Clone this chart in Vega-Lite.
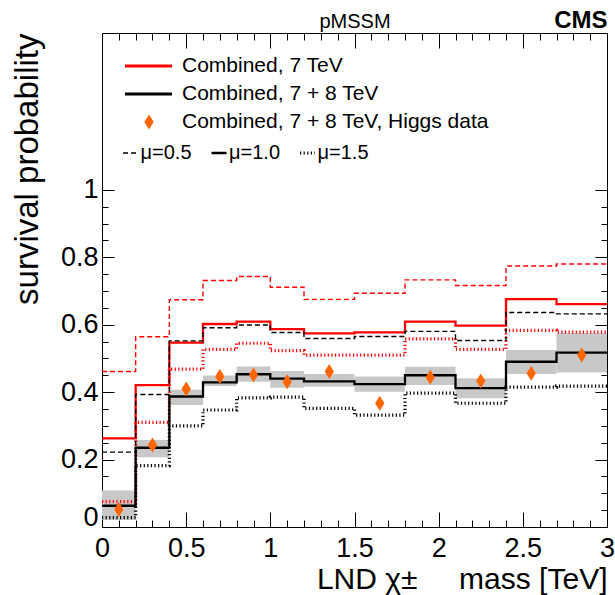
{
  "$schema": "https://vega.github.io/schema/vega-lite/v6.json",
  "width": 505,
  "height": 494,
  "autosize": {"type": "none"},
  "padding": {"left": 102, "top": 33, "right": 8, "bottom": 68},
  "config": {
    "font": "Liberation Sans",
    "view": {"stroke": "#000", "strokeWidth": 1},
    "axis": {"domain": false, "grid": false, "tickColor": "#000", "labelColor": "#000", "titleColor": "#000", "tickWidth": 1, "labelFlush": false, "labelOverlap": false, "labelBound": false},
    "legend": {"padding": 0, "labelColor": "#000", "labelFont": "Liberation Sans", "labelLimit": 500}
  },
  "datasets": {
    "band": [
      {"lo": 0, "hi": 0.2, "blo": 0.021, "bhi": 0.108},
      {"lo": 0.2, "hi": 0.4, "blo": 0.207, "bhi": 0.258},
      {"lo": 0.4, "hi": 0.6, "blo": 0.362, "bhi": 0.407},
      {"lo": 0.6, "hi": 0.8, "blo": 0.418, "bhi": 0.449},
      {"lo": 0.8, "hi": 1, "blo": 0.431, "bhi": 0.476},
      {"lo": 1, "hi": 1.2, "blo": 0.413, "bhi": 0.463},
      {"lo": 1.2, "hi": 1.5, "blo": 0.416, "bhi": 0.454},
      {"lo": 1.5, "hi": 1.8, "blo": 0.401, "bhi": 0.446},
      {"lo": 1.8, "hi": 2.1, "blo": 0.421, "bhi": 0.475},
      {"lo": 2.1, "hi": 2.4, "blo": 0.382, "bhi": 0.441},
      {"lo": 2.4, "hi": 2.7, "blo": 0.454, "bhi": 0.525},
      {"lo": 2.7, "hi": 3, "blo": 0.458, "bhi": 0.575}
    ],
    "higgs": [
      {"s": "Combined, 7 + 8 TeV, Higgs data", "x": 0.1, "v": 0.052},
      {"s": "Combined, 7 + 8 TeV, Higgs data", "x": 0.3, "v": 0.243},
      {"s": "Combined, 7 + 8 TeV, Higgs data", "x": 0.5, "v": 0.409},
      {"s": "Combined, 7 + 8 TeV, Higgs data", "x": 0.7, "v": 0.446},
      {"s": "Combined, 7 + 8 TeV, Higgs data", "x": 0.9, "v": 0.451},
      {"s": "Combined, 7 + 8 TeV, Higgs data", "x": 1.1, "v": 0.431},
      {"s": "Combined, 7 + 8 TeV, Higgs data", "x": 1.35, "v": 0.461},
      {"s": "Combined, 7 + 8 TeV, Higgs data", "x": 1.65, "v": 0.367},
      {"s": "Combined, 7 + 8 TeV, Higgs data", "x": 1.95, "v": 0.444},
      {"s": "Combined, 7 + 8 TeV, Higgs data", "x": 2.25, "v": 0.433},
      {"s": "Combined, 7 + 8 TeV, Higgs data", "x": 2.55, "v": 0.456},
      {"s": "Combined, 7 + 8 TeV, Higgs data", "x": 2.85, "v": 0.51}
    ],
    "lines": [
      {"s": "Combined, 7 TeV", "mu": "0.5", "lo": 0, "hi": 0.2, "v": 0.461},
      {"s": "Combined, 7 TeV", "mu": "0.5", "lo": 0.2, "hi": 0.4, "v": 0.564},
      {"s": "Combined, 7 TeV", "mu": "0.5", "lo": 0.4, "hi": 0.6, "v": 0.674},
      {"s": "Combined, 7 TeV", "mu": "0.5", "lo": 0.6, "hi": 0.8, "v": 0.731},
      {"s": "Combined, 7 TeV", "mu": "0.5", "lo": 0.8, "hi": 1, "v": 0.743},
      {"s": "Combined, 7 TeV", "mu": "0.5", "lo": 1, "hi": 1.2, "v": 0.711},
      {"s": "Combined, 7 TeV", "mu": "0.5", "lo": 1.2, "hi": 1.5, "v": 0.675},
      {"s": "Combined, 7 TeV", "mu": "0.5", "lo": 1.5, "hi": 1.8, "v": 0.693},
      {"s": "Combined, 7 TeV", "mu": "0.5", "lo": 1.8, "hi": 2.1, "v": 0.733},
      {"s": "Combined, 7 TeV", "mu": "0.5", "lo": 2.1, "hi": 2.4, "v": 0.716},
      {"s": "Combined, 7 TeV", "mu": "0.5", "lo": 2.4, "hi": 2.7, "v": 0.774},
      {"s": "Combined, 7 TeV", "mu": "0.5", "lo": 2.7, "hi": 3, "v": 0.78},
      {"s": "Combined, 7 TeV", "mu": "1.5", "lo": 0, "hi": 0.2, "v": 0.075},
      {"s": "Combined, 7 TeV", "mu": "1.5", "lo": 0.2, "hi": 0.4, "v": 0.31},
      {"s": "Combined, 7 TeV", "mu": "1.5", "lo": 0.4, "hi": 0.6, "v": 0.468},
      {"s": "Combined, 7 TeV", "mu": "1.5", "lo": 0.6, "hi": 0.8, "v": 0.527},
      {"s": "Combined, 7 TeV", "mu": "1.5", "lo": 0.8, "hi": 1, "v": 0.545},
      {"s": "Combined, 7 TeV", "mu": "1.5", "lo": 1, "hi": 1.2, "v": 0.523},
      {"s": "Combined, 7 TeV", "mu": "1.5", "lo": 1.2, "hi": 1.5, "v": 0.51},
      {"s": "Combined, 7 TeV", "mu": "1.5", "lo": 1.5, "hi": 1.8, "v": 0.51},
      {"s": "Combined, 7 TeV", "mu": "1.5", "lo": 1.8, "hi": 2.1, "v": 0.558},
      {"s": "Combined, 7 TeV", "mu": "1.5", "lo": 2.1, "hi": 2.4, "v": 0.527},
      {"s": "Combined, 7 TeV", "mu": "1.5", "lo": 2.4, "hi": 2.7, "v": 0.583},
      {"s": "Combined, 7 TeV", "mu": "1.5", "lo": 2.7, "hi": 3, "v": 0.578},
      {"s": "Combined, 7 TeV", "mu": "1.0", "lo": 0, "hi": 0.2, "v": 0.263},
      {"s": "Combined, 7 TeV", "mu": "1.0", "lo": 0.2, "hi": 0.4, "v": 0.421},
      {"s": "Combined, 7 TeV", "mu": "1.0", "lo": 0.4, "hi": 0.6, "v": 0.547},
      {"s": "Combined, 7 TeV", "mu": "1.0", "lo": 0.6, "hi": 0.8, "v": 0.602},
      {"s": "Combined, 7 TeV", "mu": "1.0", "lo": 0.8, "hi": 1, "v": 0.609},
      {"s": "Combined, 7 TeV", "mu": "1.0", "lo": 1, "hi": 1.2, "v": 0.587},
      {"s": "Combined, 7 TeV", "mu": "1.0", "lo": 1.2, "hi": 1.5, "v": 0.574},
      {"s": "Combined, 7 TeV", "mu": "1.0", "lo": 1.5, "hi": 1.8, "v": 0.577},
      {"s": "Combined, 7 TeV", "mu": "1.0", "lo": 1.8, "hi": 2.1, "v": 0.609},
      {"s": "Combined, 7 TeV", "mu": "1.0", "lo": 2.1, "hi": 2.4, "v": 0.597},
      {"s": "Combined, 7 TeV", "mu": "1.0", "lo": 2.4, "hi": 2.7, "v": 0.676},
      {"s": "Combined, 7 TeV", "mu": "1.0", "lo": 2.7, "hi": 3, "v": 0.661},
      {"s": "Combined, 7 + 8 TeV", "mu": "1.5", "lo": 0, "hi": 0.2, "v": 0.028},
      {"s": "Combined, 7 + 8 TeV", "mu": "1.5", "lo": 0.2, "hi": 0.4, "v": 0.182},
      {"s": "Combined, 7 + 8 TeV", "mu": "1.5", "lo": 0.4, "hi": 0.6, "v": 0.3},
      {"s": "Combined, 7 + 8 TeV", "mu": "1.5", "lo": 0.6, "hi": 0.8, "v": 0.347},
      {"s": "Combined, 7 + 8 TeV", "mu": "1.5", "lo": 0.8, "hi": 1, "v": 0.383},
      {"s": "Combined, 7 + 8 TeV", "mu": "1.5", "lo": 1, "hi": 1.2, "v": 0.385},
      {"s": "Combined, 7 + 8 TeV", "mu": "1.5", "lo": 1.2, "hi": 1.5, "v": 0.352},
      {"s": "Combined, 7 + 8 TeV", "mu": "1.5", "lo": 1.5, "hi": 1.8, "v": 0.332},
      {"s": "Combined, 7 + 8 TeV", "mu": "1.5", "lo": 1.8, "hi": 2.1, "v": 0.397},
      {"s": "Combined, 7 + 8 TeV", "mu": "1.5", "lo": 2.1, "hi": 2.4, "v": 0.367},
      {"s": "Combined, 7 + 8 TeV", "mu": "1.5", "lo": 2.4, "hi": 2.7, "v": 0.415},
      {"s": "Combined, 7 + 8 TeV", "mu": "1.5", "lo": 2.7, "hi": 3, "v": 0.418},
      {"s": "Combined, 7 + 8 TeV", "mu": "0.5", "lo": 0, "hi": 0.2, "v": 0.222},
      {"s": "Combined, 7 + 8 TeV", "mu": "0.5", "lo": 0.2, "hi": 0.4, "v": 0.393},
      {"s": "Combined, 7 + 8 TeV", "mu": "0.5", "lo": 0.4, "hi": 0.6, "v": 0.552},
      {"s": "Combined, 7 + 8 TeV", "mu": "0.5", "lo": 0.6, "hi": 0.8, "v": 0.591},
      {"s": "Combined, 7 + 8 TeV", "mu": "0.5", "lo": 0.8, "hi": 1, "v": 0.599},
      {"s": "Combined, 7 + 8 TeV", "mu": "0.5", "lo": 1, "hi": 1.2, "v": 0.577},
      {"s": "Combined, 7 + 8 TeV", "mu": "0.5", "lo": 1.2, "hi": 1.5, "v": 0.559},
      {"s": "Combined, 7 + 8 TeV", "mu": "0.5", "lo": 1.5, "hi": 1.8, "v": 0.565},
      {"s": "Combined, 7 + 8 TeV", "mu": "0.5", "lo": 1.8, "hi": 2.1, "v": 0.58},
      {"s": "Combined, 7 + 8 TeV", "mu": "0.5", "lo": 2.1, "hi": 2.4, "v": 0.553},
      {"s": "Combined, 7 + 8 TeV", "mu": "0.5", "lo": 2.4, "hi": 2.7, "v": 0.636},
      {"s": "Combined, 7 + 8 TeV", "mu": "0.5", "lo": 2.7, "hi": 3, "v": 0.632},
      {"s": "Combined, 7 + 8 TeV", "mu": "1.0", "lo": 0, "hi": 0.2, "v": 0.063},
      {"s": "Combined, 7 + 8 TeV", "mu": "1.0", "lo": 0.2, "hi": 0.4, "v": 0.235},
      {"s": "Combined, 7 + 8 TeV", "mu": "1.0", "lo": 0.4, "hi": 0.6, "v": 0.387},
      {"s": "Combined, 7 + 8 TeV", "mu": "1.0", "lo": 0.6, "hi": 0.8, "v": 0.429},
      {"s": "Combined, 7 + 8 TeV", "mu": "1.0", "lo": 0.8, "hi": 1, "v": 0.453},
      {"s": "Combined, 7 + 8 TeV", "mu": "1.0", "lo": 1, "hi": 1.2, "v": 0.44},
      {"s": "Combined, 7 + 8 TeV", "mu": "1.0", "lo": 1.2, "hi": 1.5, "v": 0.432},
      {"s": "Combined, 7 + 8 TeV", "mu": "1.0", "lo": 1.5, "hi": 1.8, "v": 0.424},
      {"s": "Combined, 7 + 8 TeV", "mu": "1.0", "lo": 1.8, "hi": 2.1, "v": 0.45},
      {"s": "Combined, 7 + 8 TeV", "mu": "1.0", "lo": 2.1, "hi": 2.4, "v": 0.412},
      {"s": "Combined, 7 + 8 TeV", "mu": "1.0", "lo": 2.4, "hi": 2.7, "v": 0.49},
      {"s": "Combined, 7 + 8 TeV", "mu": "1.0", "lo": 2.7, "hi": 3, "v": 0.517}
    ]
  },
  "resolve": {"axis": {"x": "independent", "y": "independent"}},
  "layer": [
    {
      "data": {"name": "band"},
      "mark": {"type": "rect", "color": "#c8c8c8"},
      "encoding": {
        "x": {
          "field": "lo", "type": "quantitative",
          "scale": {"domain": [0, 3], "nice": false, "zero": false},
          "axis": {
            "orient": "bottom",
            "values": [0,0.1,0.2,0.3,0.4,0.5,0.6,0.7,0.8,0.9,1,1.1,1.2,1.3,1.4,1.5,1.6,1.7,1.8,1.9,2,2.1,2.2,2.3,2.4,2.5,2.6,2.7,2.8,2.9,3],
            "tickSize": {"condition": {"test": "abs(datum.value*2-round(datum.value*2))<1e-6", "value": -15}, "value": -7},
            "labelExpr": "abs(datum.value*2-round(datum.value*2))<1e-6 ? format(datum.value,'~g') : ''",
            "labelFontSize": 27,
            "labelPadding": 23,
            "title": "LND χ±\u00a0\u00a0\u00a0\u00a0 mass [TeV]",
            "titleFontSize": 30,
            "titleFontWeight": "normal",
            "titleAnchor": "end",
            "titleBaseline": "alphabetic",
            "titleY": 61
          }
        },
        "x2": {"field": "hi"},
        "y": {
          "field": "blo", "type": "quantitative",
          "scale": {"domain": [0, 1.465], "nice": false, "zero": false},
          "axis": {
            "orient": "left",
            "values": [0,0.05,0.1,0.15,0.2,0.25,0.3,0.35,0.4,0.45,0.5,0.55,0.6,0.65,0.7,0.75,0.8,0.85,0.9,0.95,1],
            "tickSize": {"condition": {"test": "abs(datum.value*5-round(datum.value*5))<1e-6", "value": -12}, "value": -6},
            "labelExpr": "abs(datum.value*5-round(datum.value*5))<1e-6 ? format(datum.value,'~g') : ''",
            "labelOffset": {"condition": {"test": "datum.value === 0", "value": -10}, "value": 0},
            "labelFontSize": 27,
            "labelPadding": 16,
            "title": "survival probability",
            "titleFontSize": 33,
            "titleFontWeight": "normal",
            "titleAnchor": "end",
            "titleBaseline": "alphabetic",
            "titleX": -65
          }
        },
        "y2": {"field": "bhi"}
      }
    },
    {
      "data": {"name": "lines"},
      "transform": [{"fold": ["lo", "hi"], "as": ["edge", "x"]}],
      "mark": {"type": "line", "interpolate": "linear"},
      "encoding": {
        "x": {
          "field": "x", "type": "quantitative",
          "axis": {
            "orient": "top",
            "values": [0,0.1,0.2,0.3,0.4,0.5,0.6,0.7,0.8,0.9,1,1.1,1.2,1.3,1.4,1.5,1.6,1.7,1.8,1.9,2,2.1,2.2,2.3,2.4,2.5,2.6,2.7,2.8,2.9,3],
            "tickSize": {"condition": {"test": "abs(datum.value*2-round(datum.value*2))<1e-6", "value": -15}, "value": -7},
            "labels": false,
            "title": "pMSSM",
            "titleFontSize": 20,
            "titleFontWeight": "normal",
            "titleAnchor": "middle",
            "titleBaseline": "alphabetic",
            "titleY": -6
          }
        },
        "y": {
          "field": "v", "type": "quantitative",
          "axis": {
            "orient": "right",
            "values": [0,0.05,0.1,0.15,0.2,0.25,0.3,0.35,0.4,0.45,0.5,0.55,0.6,0.65,0.7,0.75,0.8,0.85,0.9,0.95,1],
            "tickSize": {"condition": {"test": "abs(datum.value*5-round(datum.value*5))<1e-6", "value": -12}, "value": -6},
            "labels": false,
            "title": null
          }
        },
        "color": {
          "field": "s", "type": "nominal",
          "scale": {"domain": ["Combined, 7 TeV", "Combined, 7 + 8 TeV"], "range": ["#ff0000", "#000000"]},
          "legend": {
            "orient": "none", "legendX": 21, "legendY": 19, "title": null,
            "symbolType": "stroke", "symbolSize": 2209, "symbolStrokeWidth": 3.2,
            "labelFontSize": 21, "labelOffset": 8, "rowPadding": 0, "clipHeight": 28, "symbolOpacity": 1
          }
        },
        "strokeDash": {
          "field": "mu", "type": "ordinal",
          "scale": {"domain": ["0.5", "1.0", "1.5"], "range": [[5, 3], [1, 0], [1.2, 2.4]]},
          "legend": {
            "orient": "none", "legendX": 18.5, "legendY": 110, "title": null, "direction": "horizontal",
            "symbolType": "stroke", "symbolSize": 225, "symbolStrokeColor": "#000",
            "labelExpr": "'μ=' + datum.label", "labelFontSize": 20, "labelOffset": 0, "columnPadding": 16.5, "clipHeight": 20
          }
        },
        "strokeWidth": {
          "field": "mu", "type": "ordinal",
          "scale": {"domain": ["0.5", "1.0", "1.5"], "range": [1.4, 3.2, 1.3]},
          "legend": {
            "orient": "none", "legendX": 18.5, "legendY": 110, "title": null, "direction": "horizontal",
            "symbolType": "stroke", "symbolSize": 225, "symbolStrokeColor": "#000",
            "labelExpr": "'μ=' + datum.label", "labelFontSize": 20, "labelOffset": 0, "columnPadding": 16.5, "clipHeight": 20
          }
        },
        "order": [{"field": "x", "type": "quantitative"}, {"field": "edge", "type": "ordinal"}]
      }
    },
    {
      "data": {"name": "higgs"},
      "mark": {"type": "point", "filled": true, "opacity": 1, "size": 2197, "strokeWidth": 0, "color": "#ff6600"},
      "encoding": {
        "x": {
          "field": "x", "type": "quantitative",
          "axis": {
            "orient": "top", "values": [], "ticks": false, "labels": false,
            "title": "CMS", "titleFontSize": 24, "titleFontWeight": "bold",
            "titleAnchor": "end", "titleBaseline": "alphabetic", "titleY": -6
          }
        },
        "y": {"field": "v", "type": "quantitative", "axis": null},
        "shape": {
          "field": "s", "type": "nominal",
          "scale": {"domain": ["Combined, 7 + 8 TeV, Higgs data"], "range": ["M0,-0.32L0.2,0L0,0.32L-0.2,0Z"]},
          "legend": {
            "orient": "none", "legendX": 23.5, "legendY": 75, "title": null,
            "symbolSize": 2209, "symbolStrokeWidth": 0, "symbolFillColor": "#ff6600", "symbolStrokeColor": "transparent",
            "labelFontSize": 21, "labelOffset": 9.5, "rowPadding": 0, "clipHeight": 28, "symbolOpacity": 1
          }
        }
      }
    }
  ]
}
